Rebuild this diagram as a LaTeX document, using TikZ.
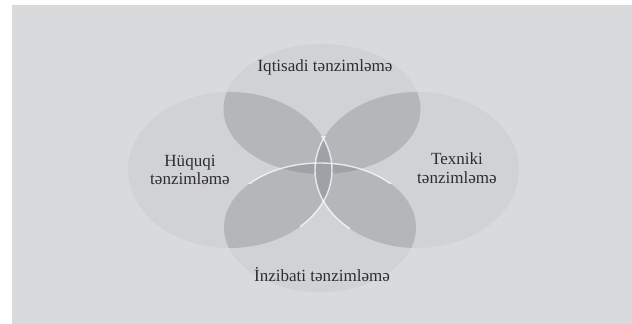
\documentclass[tikz,border=0pt]{standalone}
\usepackage{fontspec}
\setmainfont{Liberation Serif}
\definecolor{page}{RGB}{217,218,220}
\definecolor{petal}{RGB}{209,210,213}
\definecolor{lens}{RGB}{181,182,186}
\definecolor{core}{RGB}{160,161,166}
\definecolor{ink}{RGB}{45,45,50}
\def\eL{(4.60,3.08) ellipse [x radius=2.04, y radius=1.56]}
\def\eR{(8.34,3.08) ellipse [x radius=2.04, y radius=1.56]}
\def\eT{(6.44,4.30) ellipse [x radius=1.97, y radius=1.30]}
\def\eB{(6.40,1.93) ellipse [x radius=1.92, y radius=1.29]}
\begin{document}
\begin{tikzpicture}
	\tikzset{label/.style = {text=ink,align=center,font=\fontsize{9.7}{10.5}\selectfont}}
	\tikzset{rim/.style = {draw=white,line width=.8pt,opacity=.75}}
	\useasboundingbox (0,0) rectangle (12.64,6.48);
	\fill[white] (0,0) rectangle (12.64,6.48);
	\fill[page] (0.24,0) rectangle (12.64,6.38);
	\fill[petal] \eL;
	\fill[petal] \eR;
	\fill[petal] \eT;
	\fill[petal] \eB;
	\begin{scope}
		\clip \eT;
		\fill[lens] \eL;
		\fill[lens] \eR;
		\fill[lens] \eB;
	\end{scope}
	\begin{scope}
		\clip \eB;
		\fill[lens] \eL;
		\fill[lens] \eR;
	\end{scope}
	\begin{scope}
		\clip \eL;
		\fill[lens] \eR;
	\end{scope}
	\begin{scope}
		\clip \eT; \clip \eL;
		\fill[core] \eR;
		\fill[core] \eB;
	\end{scope}
	\begin{scope}
		\clip \eT; \clip \eR;
		\fill[core] \eB;
	\end{scope}
	\begin{scope}
		\clip \eB; \clip \eL;
		\fill[core] \eR;
	\end{scope}
	\begin{scope}
		\clip (4.6,2.8) rectangle (8.4,3.3);
		\draw[rim] \eB;
	\end{scope}
	\begin{scope}
		\clip (6.0,1.8) rectangle (7.0,3.74);
		\draw[rim] \eL;
		\draw[rim] \eR;
	\end{scope}
	\node[label] (econ) at (6.50,5.14) {Iqtisadi tənzimləmə};
	\node[label] (law) at (3.80,3.08) {Hüquqi\\tənzimləmə};
	\node[label] (tech) at (9.14,3.12) {Texniki\\tənzimləmə};
	\node[label] (admin) at (6.44,0.98) {İnzibati tənzimləmə};
\end{tikzpicture}
\end{document}
